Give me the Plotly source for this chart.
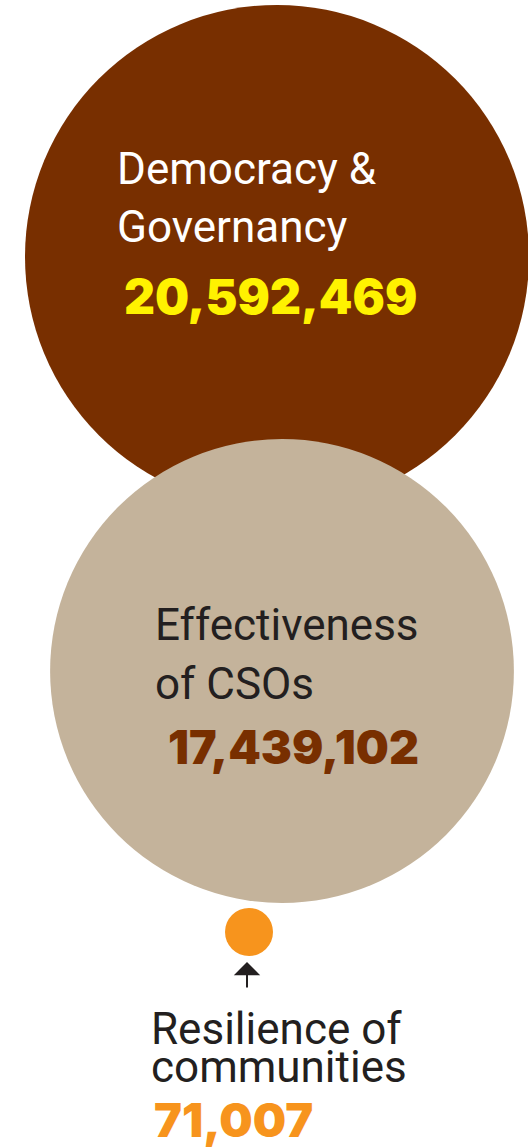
import plotly.graph_objects as go
import math

# ---- data ----
categories = ["Democracy & Governancy", "Effectiveness of CSOs", "Resilience of communities"]
values = [20592469, 17439102, 71007]
label_lines = [["Democracy &", "Governancy"], ["Effectiveness", "of CSOs"], ["Resilience of", "communities"]]

# ---- styling / layout constants ----
W, H = 528, 1148
circle_colors = ["#782F00", "#C4B39B", "#F7941D"]
label_colors = ["#FFFFFF", "#231F20", "#231F20"]
number_colors = ["#FFF200", "#782F00", "#F7941D"]
centers = [(277, 257), (282, 671), (249, 932)]
R_MAX = 252
R_MIN = 24
label_font = "Roboto, Liberation Sans, Arial, sans-serif"
number_font = "Inter, Roboto, Lato, sans-serif"

label_x = [116, 154, 150]
label_y = [[169, 227], [624.5, 684], [1029, 1067]]
label_size = [44, 44, 44]
number_x = [123, 167, 153]
number_y = [296, 746.5, 1119]
number_size = [48, 46.5, 47]

vmax = max(values)
shapes = []
for i, v in enumerate(values):
    r = max(R_MAX * math.sqrt(v / vmax), R_MIN)
    cx, cy = centers[i]
    shapes.append(dict(type="circle", xref="x", yref="y",
                       x0=cx - r, x1=cx + r, y0=cy - r, y1=cy + r,
                       fillcolor=circle_colors[i], line=dict(width=0), layer="below"))

annotations = []
for i, lines in enumerate(label_lines):
    for j, line in enumerate(lines):
        annotations.append(dict(x=label_x[i], y=label_y[i][j], xref="x", yref="y",
                                text=line, showarrow=False, xanchor="left", yanchor="middle",
                                borderpad=0,
                                font=dict(family=label_font, size=label_size[i], color=label_colors[i])))
    annotations.append(dict(x=number_x[i], y=number_y[i], xref="x", yref="y",
                            text=f"{values[i]:,}", showarrow=False, xanchor="left", yanchor="middle",
                            borderpad=0,
                            font=dict(family=number_font, size=number_size[i], color=number_colors[i],
                                      weight=900)))

# arrow pointing to small bubble
annotations.append(dict(x=247, y=962, ax=247, ay=989, xref="x", yref="y", axref="x", ayref="y",
                        text="", showarrow=True, arrowhead=1, arrowsize=2.2, arrowwidth=2,
                        arrowcolor="#231F20", standoff=0))

fig = go.Figure()
fig.add_trace(go.Scatter(x=[None], y=[None], mode="markers", showlegend=False, hoverinfo="skip"))
fig.update_layout(
    width=W, height=H, margin=dict(l=0, r=0, t=0, b=0),
    paper_bgcolor="white", plot_bgcolor="white",
    xaxis=dict(range=[0, W], visible=False, fixedrange=True),
    yaxis=dict(range=[H, 0], visible=False, fixedrange=True),
    shapes=shapes, annotations=annotations, showlegend=False,
)
fig.write_html("out.html", config={"displayModeBar": False},
               post_script="document.body.style.margin='0';document.body.style.overflow='hidden';")
